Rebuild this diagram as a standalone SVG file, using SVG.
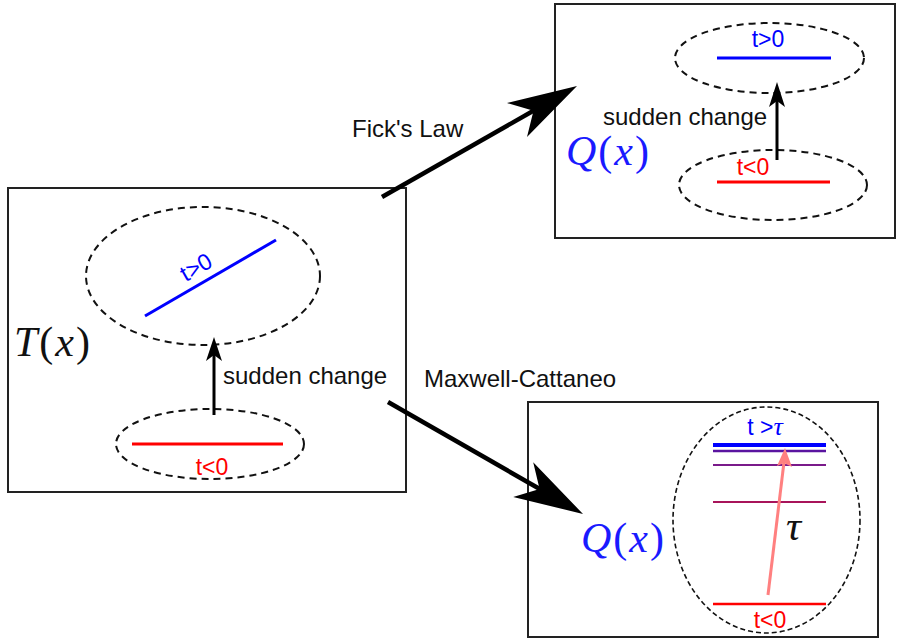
<svg xmlns="http://www.w3.org/2000/svg" width="897" height="640" viewBox="0 0 897 640">
<style>
.box{fill:none;stroke:#222;stroke-width:2}
.dash{fill:none;stroke:#111;stroke-width:2;stroke-dasharray:7,5}
.dash2{fill:none;stroke:#111;stroke-width:1.6;stroke-dasharray:5,3}
.lbl{font-family:"Liberation Sans",Arial,sans-serif;font-size:24px;fill:#111}
.sm{font-family:"Liberation Sans",Arial,sans-serif;font-size:23px}
.math{font-family:"Liberation Serif","Times New Roman",serif;font-size:42px}
.it{font-style:italic}
.blk{stroke:#000;stroke-width:3;fill:none}
.big{stroke:#000;stroke-width:4.5;fill:none}
</style>
<rect width="897" height="640" fill="#fff"/>

<g id="left-box">
<rect class="box" x="8" y="188" width="398" height="304"/>
<ellipse class="dash" cx="203" cy="276" rx="117" ry="69"/>
<line x1="145" y1="316" x2="276" y2="240" stroke="#0000ff" stroke-width="3"/>
<text class="sm" x="0" y="0" fill="#0000ff" text-anchor="middle" transform="translate(200,274) rotate(-30)">t&gt;0</text>
<ellipse class="dash" cx="210" cy="444" rx="94" ry="35"/>
<line x1="132" y1="444" x2="283" y2="444" stroke="#ff0000" stroke-width="3"/>
<text class="sm" x="212" y="475" fill="#ff0000" text-anchor="middle">t&lt;0</text>
<line class="blk" x1="214" y1="415" x2="214" y2="350"/>
<path d="M214,337 L222,361 L214,355 L206,361 Z" fill="#000"/>
<text class="lbl" x="223" y="384">sudden change</text>
<text class="math" x="14" y="356" fill="#111" letter-spacing="2"><tspan class="it">T</tspan>(<tspan class="it">x</tspan>)</text>
</g>

<g id="top-right-box">
<rect class="box" x="555" y="4" width="340" height="234"/>
<ellipse class="dash" cx="769.5" cy="58" rx="94.5" ry="35"/>
<line x1="717" y1="58" x2="831" y2="58" stroke="#0000ff" stroke-width="3"/>
<text class="sm" x="768" y="47" fill="#0000ff" text-anchor="middle">t&gt;0</text>
<ellipse class="dash" cx="773" cy="185" rx="94" ry="35"/>
<line x1="717" y1="182" x2="830" y2="182" stroke="#ff0000" stroke-width="3"/>
<text class="sm" x="753" y="175" fill="#ff0000" text-anchor="middle">t&lt;0</text>
<line class="blk" x1="777" y1="160" x2="777" y2="95"/>
<path d="M777,82 L785,107 L777,101 L769,107 Z" fill="#000"/>
<text class="lbl" x="603" y="125">sudden change</text>
<text class="math" x="566" y="165" fill="#1a1aff" letter-spacing="2"><tspan class="it">Q</tspan>(<tspan class="it">x</tspan>)</text>
</g>

<g id="bottom-right-box">
<rect class="box" x="528" y="402" width="350" height="235"/>
<ellipse class="dash2" cx="766.5" cy="520" rx="93.5" ry="113"/>
<line x1="713" y1="445" x2="826" y2="445" stroke="#0000ff" stroke-width="4"/>
<line x1="713" y1="451" x2="826" y2="451" stroke="#5a14a0" stroke-width="2.5"/>
<line x1="713" y1="465" x2="826" y2="465" stroke="#7a1a8a" stroke-width="2"/>
<line x1="713" y1="502" x2="826" y2="502" stroke="#a8145a" stroke-width="2"/>
<line x1="713" y1="604" x2="826" y2="604" stroke="#ff0000" stroke-width="2.5"/>
<line x1="768" y1="595" x2="784" y2="462" stroke="#ff8080" stroke-width="3"/>
<path d="M785,448 L792,467 L784,463 L777,466 Z" fill="#ff8080"/>
<text class="sm" x="765" y="435" fill="#0000ff" text-anchor="middle">t &gt;<tspan font-family="Liberation Serif,serif" font-style="italic" font-size="26">τ</tspan></text>
<text class="sm" x="770" y="628" fill="#ff0000" text-anchor="middle">t&lt;0</text>
<text class="math it" x="786" y="540" fill="#111" font-size="46">τ</text>
<text class="math" x="581" y="552" fill="#1a1aff" letter-spacing="2"><tspan class="it">Q</tspan>(<tspan class="it">x</tspan>)</text>
</g>

<g id="connectors">
<line class="big" x1="382" y1="197" x2="540" y2="107"/>
<path d="M577,86 L507,103 L533.5,110.8 L527,137 Z" fill="#000"/>
<text class="lbl" x="352" y="137">Fick's Law</text>
<line class="big" x1="388" y1="402" x2="545" y2="492"/>
<path d="M583,514 L533.2,462.3 L539.6,489.1 L513.2,496.9 Z" fill="#000"/>
<text class="lbl" x="424" y="387">Maxwell-Cattaneo</text>
</g>
</svg>
